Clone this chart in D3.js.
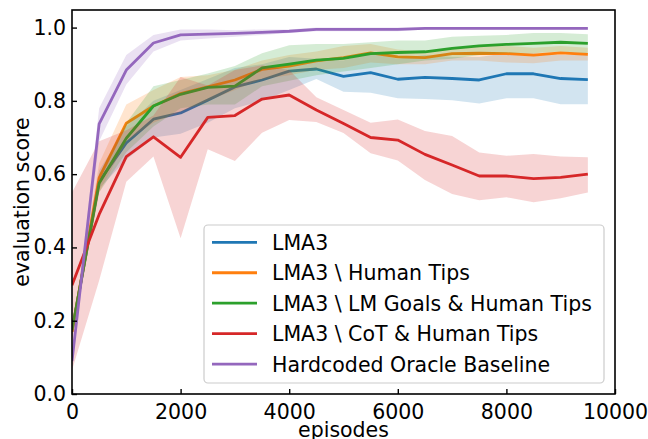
<!DOCTYPE html>
<html>
<head>
<meta charset="utf-8">
<script src="https://cdn.jsdelivr.net/npm/d3@7"></script>
<style>
  html, body { margin: 0; padding: 0; background: #fff; }
  svg { display: block; }
  text { font-family: "DejaVu Sans", sans-serif; }
</style>
</head>
<body>
<svg id="chart" width="648" height="439"></svg>
<script>
// ---- data ----
const episodes = [0, 500, 1000, 1500, 2000, 2500, 3000, 3500, 4000, 4500, 5000, 5500, 6000, 6500, 7000, 7500, 8000, 8500, 9000, 9500];

const lma3     = [0.17, 0.58, 0.685, 0.75, 0.767, 0.802, 0.838, 0.857, 0.881, 0.887, 0.867, 0.877, 0.859, 0.864, 0.861, 0.857, 0.874, 0.874, 0.861, 0.858];
const lma3Lo   = [0.15, 0.56, 0.64, 0.70, 0.71, 0.74, 0.78, 0.80, 0.83, 0.86, 0.825, 0.822, 0.807, 0.805, 0.802, 0.793, 0.807, 0.807, 0.791, 0.791];
const lma3Hi   = [0.19, 0.61, 0.73, 0.80, 0.83, 0.86, 0.89, 0.90, 0.92, 0.915, 0.91, 0.93, 0.915, 0.925, 0.92, 0.92, 0.93, 0.93, 0.925, 0.925];

const noTips   = [0.17, 0.59, 0.739, 0.786, 0.82, 0.838, 0.857, 0.886, 0.895, 0.909, 0.918, 0.931, 0.920, 0.918, 0.929, 0.930, 0.929, 0.925, 0.931, 0.927];
const noTipsLo = [0.15, 0.55, 0.69, 0.74, 0.77, 0.80, 0.83, 0.86, 0.87, 0.885, 0.89, 0.905, 0.90, 0.90, 0.91, 0.91, 0.905, 0.903, 0.91, 0.91];
const noTipsHi = [0.19, 0.63, 0.79, 0.83, 0.865, 0.87, 0.885, 0.91, 0.925, 0.935, 0.95, 0.955, 0.94, 0.935, 0.945, 0.95, 0.95, 0.945, 0.95, 0.945];

const noGoals   = [0.175, 0.575, 0.698, 0.786, 0.818, 0.837, 0.840, 0.890, 0.900, 0.911, 0.916, 0.929, 0.932, 0.934, 0.943, 0.950, 0.954, 0.957, 0.960, 0.957];
const noGoalsLo = [0.155, 0.55, 0.66, 0.73, 0.78, 0.79, 0.79, 0.84, 0.855, 0.87, 0.88, 0.89, 0.90, 0.91, 0.915, 0.925, 0.93, 0.93, 0.935, 0.93];
const noGoalsHi = [0.195, 0.60, 0.74, 0.84, 0.857, 0.875, 0.895, 0.93, 0.952, 0.955, 0.955, 0.96, 0.965, 0.965, 0.975, 0.978, 0.98, 0.985, 0.985, 0.982];

const noCot   = [0.297, 0.49, 0.648, 0.702, 0.646, 0.755, 0.760, 0.805, 0.816, 0.775, 0.738, 0.700, 0.693, 0.654, 0.625, 0.595, 0.595, 0.588, 0.591, 0.600];
const noCotLo = [0.065, 0.31, 0.579, 0.648, 0.425, 0.668, 0.636, 0.713, 0.748, 0.742, 0.712, 0.657, 0.637, 0.584, 0.546, 0.529, 0.537, 0.523, 0.534, 0.550];
const noCotHi = [0.55, 0.69, 0.72, 0.76, 0.865, 0.842, 0.884, 0.897, 0.884, 0.81, 0.775, 0.74, 0.749, 0.718, 0.704, 0.659, 0.650, 0.655, 0.648, 0.646];

const oracle   = [0.09, 0.737, 0.884, 0.958, 0.98, 0.982, 0.984, 0.987, 0.99, 0.995, 0.995, 0.995, 0.995, 0.998, 0.998, 0.998, 0.998, 0.998, 0.998, 0.998];
const oracleLo = [0.07, 0.69, 0.845, 0.935, 0.965, 0.97, 0.975, 0.98, 0.985, 0.99, 0.99, 0.99, 0.99, 0.995, 0.995, 0.995, 0.995, 0.995, 0.995, 0.995];
const oracleHi = [0.11, 0.78, 0.925, 0.98, 0.995, 0.995, 0.993, 0.995, 0.995, 1.0, 1.0, 1.0, 1.0, 1.0, 1.0, 1.0, 1.0, 1.0, 1.0, 1.0];

const seriesNames = ["LMA3", "LMA3 \\ Human Tips", "LMA3 \\ LM Goals & Human Tips", "LMA3 \\ CoT & Human Tips", "Hardcoded Oracle Baseline"];
const seriesColors = ["#1f77b4", "#ff7f0e", "#2ca02c", "#d62728", "#9467bd"];
const xTicks = [0, 2000, 4000, 6000, 8000, 10000];
const yTicks = [0.0, 0.2, 0.4, 0.6, 0.8, 1.0];

const series = [
  { name: seriesNames[0], color: seriesColors[0], mean: lma3, lo: lma3Lo, hi: lma3Hi },
  { name: seriesNames[1], color: seriesColors[1], mean: noTips, lo: noTipsLo, hi: noTipsHi },
  { name: seriesNames[2], color: seriesColors[2], mean: noGoals, lo: noGoalsLo, hi: noGoalsHi },
  { name: seriesNames[3], color: seriesColors[3], mean: noCot, lo: noCotLo, hi: noCotHi },
  { name: seriesNames[4], color: seriesColors[4], mean: oracle, lo: oracleLo, hi: oracleHi }
];

// ---- layout ----
const svg = d3.select("#chart");
const L = 72, R = 615, T = 10, B = 394;
const FS = 20.5;

const x = d3.scaleLinear().domain([0, 10000]).range([L, R]);
const y = d3.scaleLinear().domain([0, 1.048]).range([B, T]);

const plot = svg.append("g");
plot.append("defs").append("clipPath").attr("id", "clip")
  .append("rect").attr("x", L).attr("y", T).attr("width", R - L).attr("height", B - T);
const g = plot.append("g").attr("clip-path", "url(#clip)");

series.forEach(s => {
  const pts = episodes.map((e, i) => ({ e, m: s.mean[i], lo: s.lo[i], hi: s.hi[i] }));
  g.append("path")
    .attr("d", d3.area().x(d => x(d.e)).y0(d => y(d.lo)).y1(d => y(d.hi))(pts))
    .attr("fill", s.color).attr("fill-opacity", 0.2).attr("stroke", "none");
  g.append("path")
    .attr("d", d3.line().x(d => x(d.e)).y(d => y(d.m))(pts))
    .attr("fill", "none").attr("stroke", s.color).attr("stroke-width", 2.8)
    .attr("stroke-linejoin", "round").attr("stroke-linecap", "butt");
});

// ---- axes ----
const xAxis = d3.axisBottom(x).tickValues(xTicks).tickFormat(d3.format("d"))
  .tickSizeInner(-5).tickSizeOuter(0).tickPadding(10);
const gx = svg.append("g").attr("transform", `translate(0,${B})`).call(xAxis);
gx.select(".domain").remove();
gx.selectAll(".tick line").attr("stroke", "#000").attr("stroke-width", 1.4);
gx.selectAll(".tick text").attr("font-size", FS).attr("fill", "#000")
  .attr("font-family", "DejaVu Sans, sans-serif");

const yAxis = d3.axisLeft(y).tickValues(yTicks).tickFormat(d3.format(".1f"))
  .tickSizeInner(-5).tickSizeOuter(0).tickPadding(6);
const gy = svg.append("g").attr("transform", `translate(${L},0)`).call(yAxis);
gy.select(".domain").remove();
gy.selectAll(".tick line").attr("stroke", "#000").attr("stroke-width", 1.4);
gy.selectAll(".tick text").attr("font-size", FS).attr("fill", "#000")
  .attr("font-family", "DejaVu Sans, sans-serif");

// frame
svg.append("rect").attr("x", L).attr("y", T).attr("width", R - L).attr("height", B - T)
  .attr("fill", "none").attr("stroke", "#000").attr("stroke-width", 1.6);

// axis labels
svg.append("text").attr("x", (L + R) / 2).attr("y", 437).attr("text-anchor", "middle")
  .attr("font-size", FS).text("episodes");
svg.append("text").attr("transform", `translate(29,${(T + B) / 2}) rotate(-90)`)
  .attr("text-anchor", "middle").attr("font-size", FS).text("evaluation score");

// ---- legend ----
const lg = svg.append("g");
lg.append("rect").attr("x", 204).attr("y", 225).attr("width", 400).attr("height", 158)
  .attr("rx", 4).attr("fill", "#fff").attr("fill-opacity", 0.8)
  .attr("stroke", "#cccccc").attr("stroke-width", 1.2);
series.forEach((s, i) => {
  const cy = 242.3 + i * 30.45;
  lg.append("line").attr("x1", 212).attr("x2", 257).attr("y1", cy).attr("y2", cy)
    .attr("stroke", s.color).attr("stroke-width", 2.8);
  lg.append("text").attr("x", 272).attr("y", cy + 7.6).attr("font-size", FS).text(s.name);
});
</script>
</body>
</html>
